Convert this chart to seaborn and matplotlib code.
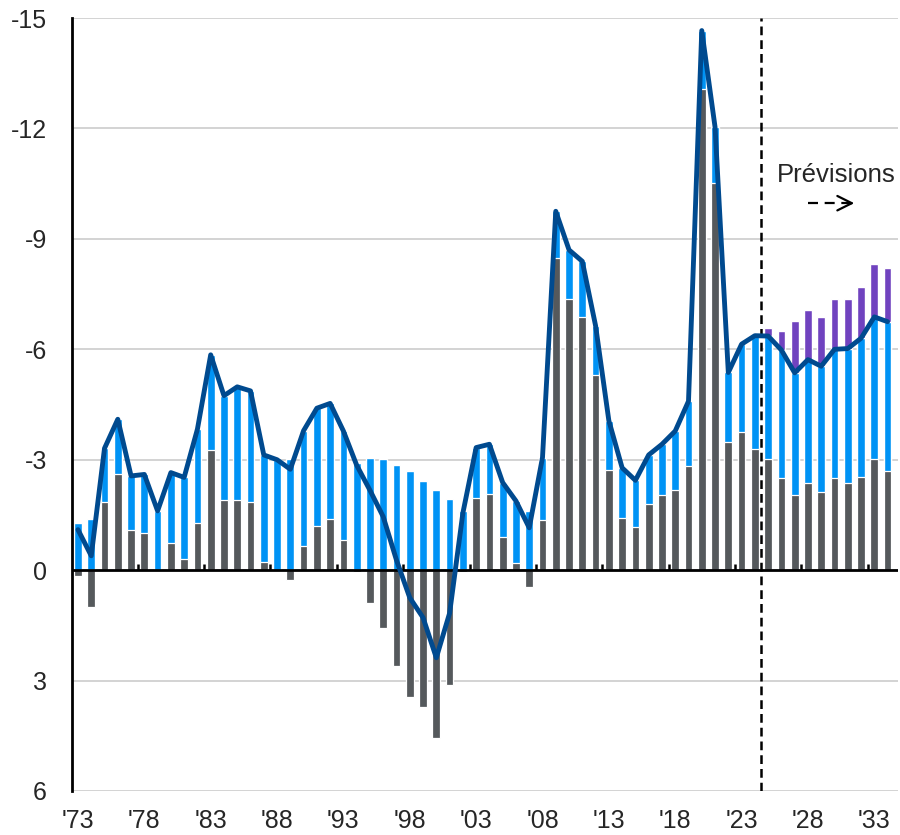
import matplotlib
matplotlib.use("Agg")
import matplotlib.pyplot as plt
import seaborn as sns
import numpy as np
import pandas as pd

# values (negative = deficit, drawn upward)
years = list(range(1973, 2035))
primary = [0.17, 1.01, -1.84, -2.61, -1.10, -1.00, 0.00, -0.75, -0.30, -1.28,
           -3.26, -1.90, -1.91, -1.86, -0.23, 0.00, 0.28, -0.66, -1.20, -1.40,
           -0.82, 0.05, 0.89, 1.57, 2.60, 3.44, 3.71, 4.57, 3.11, 0.06,
           -1.97, -2.08, -0.91, -0.19, 0.47, -1.37, -8.47, -7.36, -6.89, -5.30,
           -2.72, -1.42, -1.18, -1.81, -2.04, -2.18, -2.83, -13.08, -10.53, -3.49,
           -3.76, -3.29, -3.01, -2.49, -2.04, -2.36, -2.13, -2.49, -2.38, -2.52,
           -3.01, -2.70]
total = [-1.10, -0.39, -3.31, -4.10, -2.56, -2.60, -1.61, -2.65, -2.52, -3.83,
         -5.85, -4.74, -4.98, -4.87, -3.13, -3.00, -2.74, -3.79, -4.40, -4.53,
         -3.78, -2.85, -2.17, -1.45, -0.27, 0.75, 1.29, 2.38, 1.17, -1.55,
         -3.33, -3.42, -2.38, -1.88, -1.15, -3.06, -9.75, -8.70, -8.39, -6.64,
         -4.06, -2.78, -2.44, -3.13, -3.42, -3.78, -4.59, -14.66, -12.04, -5.37,
         -6.14, -6.37, -6.36, -5.98, -5.36, -5.72, -5.54, -6.00, -6.02, -6.30,
         -6.88, -6.75]
forecast_years = list(range(2025, 2035))
forecast_extra = [-0.23, -0.52, -1.42, -1.36, -1.34, -1.36, -1.35, -1.40, -1.44, -1.45]

ytick_vals = [-15, -12, -9, -6, -3, 0, 3, 6]
xtick_years = list(range(1973, 2034, 5))
xtick_labels = ["'" + str(y)[2:] for y in xtick_years]

GRAY = '#55595c'
BLUE = '#0093f5'
LINE = '#004a8f'
PURPLE = '#7043bf'

sns.set_style('white')
plt.rcParams['font.family'] = ['Liberation Sans', 'DejaVu Sans']
plt.rcParams['axes.unicode_minus'] = False

df = pd.DataFrame({'year': years, 'primary': primary, 'total': total})
df['blue_top'] = df['total'] - df['primary'].clip(lower=0)
fc = pd.DataFrame({'year': forecast_years, 'extra': forecast_extra})
fc = fc.merge(df[['year', 'total']], on='year')
fc['purple_top'] = fc['total'] + fc['extra']

fig = plt.figure(figsize=(9, 8.35), dpi=100)
ax = fig.add_axes([0.08, 0.0527, 0.918, 0.9257])

bar_kw = dict(native_scale=True, width=0.58, saturation=1, errorbar=None,
              orient='x', ax=ax, zorder=2)
sns.barplot(data=fc, x='year', y='purple_top', color=PURPLE, **bar_kw)
sns.barplot(data=df, x='year', y='blue_top', color=BLUE, **bar_kw)
sns.barplot(data=df, x='year', y='primary', color=GRAY,
            edgecolor='white', linewidth=0.9, **bar_kw)

ax.axhline(0, color='black', lw=2, zorder=3)
sns.lineplot(data=df, x='year', y='total', color=LINE, linewidth=3.5,
             ax=ax, zorder=5, legend=False, solid_joinstyle='round')

# small tick marks on the zero line between categories
tick_pos = [y - 0.5 for y in xtick_years[1:]]
ax.vlines(tick_pos, 0, -0.17, color='black', lw=1.8, zorder=3)

# forecast separator
ax.axvline(2024.5, color='black', lw=1.8, linestyle=(0, (3.5, 2)), zorder=4)
ax.text(2030.1, -10.73, 'Prévisions', ha='center', va='center', fontsize=18.5)
ax.plot([2028.0, 2031.1], [-9.97, -9.97], color='black', lw=1.6,
        linestyle=(0, (4.5, 3)), zorder=6)
ax.annotate('', xy=(2031.7, -9.97), xytext=(2030.9, -9.97),
            arrowprops=dict(arrowstyle='->', color='black', lw=1.6,
                            mutation_scale=26))

ax.set_ylim(6, -15)
ax.set_xlim(1972.55, 2034.8)
ax.set_yticks(ytick_vals)
ax.set_yticklabels([str(v) for v in ytick_vals])
ax.set_xticks(xtick_years)
ax.set_xticklabels(xtick_labels)
ax.tick_params(axis='both', length=0, labelsize=18)
ax.tick_params(axis='x', pad=13)
ax.tick_params(axis='y', pad=18)
ax.set_xlabel('')
ax.set_ylabel('')

ax.grid(axis='y', color='#cccccc', lw=1.2, zorder=0)
ax.grid(axis='x', visible=False)
ax.set_axisbelow(True)
for s in ['top', 'right', 'bottom']:
    ax.spines[s].set_visible(False)
ax.spines['left'].set_color('black')
ax.spines['left'].set_linewidth(2)

plt.savefig('out.png', dpi=100)
plt.close()
